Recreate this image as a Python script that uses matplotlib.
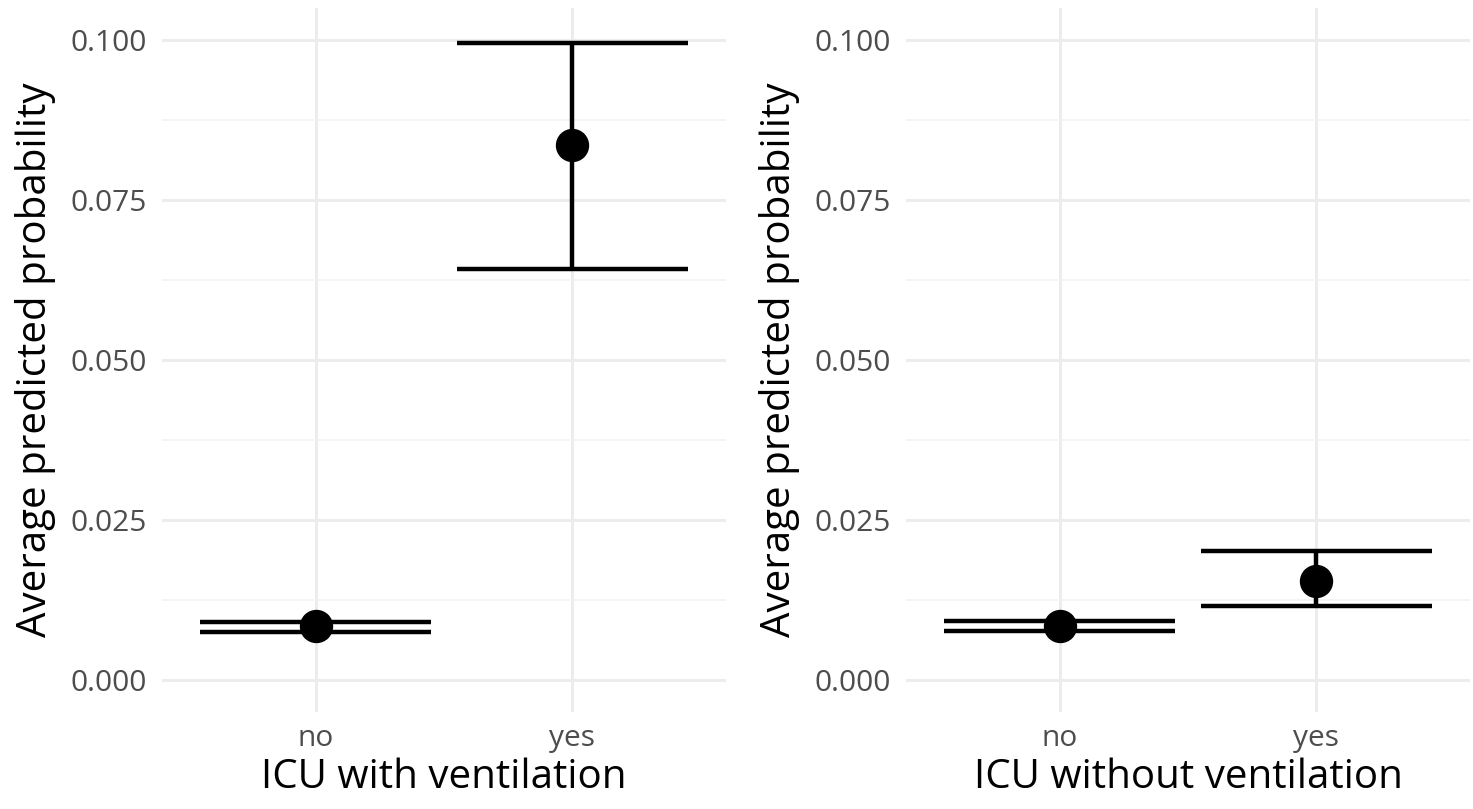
import matplotlib.pyplot as plt
import numpy as np

plt.rcParams['font.family'] = ['Open Sans', 'DejaVu Sans']

groups = ["no", "yes"]
xlabels = ["ICU with ventilation", "ICU without ventilation"]

# predicted probability and CI for each panel
est = [[0.0084, 0.0836], [0.0085, 0.0154]]
lower = [[0.0075, 0.0642], [0.0077, 0.0115]]
upper = [[0.0091, 0.0996], [0.0092, 0.0201]]

fig = plt.figure(figsize=(14.73, 8.09), dpi=100)
positions = [[0.110, 0.120, 0.383, 0.870], [0.615, 0.120, 0.383, 0.870]]

for i in range(2):
    ax = fig.add_axes(positions[i])
    x = np.arange(1, len(groups) + 1)
    ax.vlines(x, lower[i], upper[i], color="black", lw=3.2, zorder=3)
    ax.hlines(lower[i], x - 0.45, x + 0.45, color="black", lw=3.2, zorder=3)
    ax.hlines(upper[i], x - 0.45, x + 0.45, color="black", lw=3.2, zorder=3)
    ax.plot(x, est[i], "o", color="black", ms=23, zorder=4)

    ax.set_xlim(0.4, 2.6)
    ax.set_ylim(-0.005, 0.105)
    ax.set_xticks(x)
    ax.set_xticklabels(groups)
    ax.set_yticks([0, 0.025, 0.05, 0.075, 0.1])
    ax.set_yticklabels(["0.000", "0.025", "0.050", "0.075", "0.100"])
    ax.set_yticks(np.arange(0.0125, 0.1, 0.025), minor=True)
    ax.grid(True, which="major", color="#EBEBEB", lw=2)
    ax.grid(True, which="minor", axis="y", color="#F2F2F2", lw=1.2)
    ax.set_axisbelow(True)
    for s in ax.spines.values():
        s.set_visible(False)
    ax.tick_params(which="both", length=0, labelsize=21.5, labelcolor="#4D4D4D")
    ax.tick_params(axis="y", pad=11)
    ax.tick_params(axis="x", pad=9)
    ax.set_xlabel(xlabels[i], fontsize=29, labelpad=3)
    ax.set_ylabel("Average predicted probability", fontsize=29, labelpad=10)

fig.savefig("out.png", dpi=100)
